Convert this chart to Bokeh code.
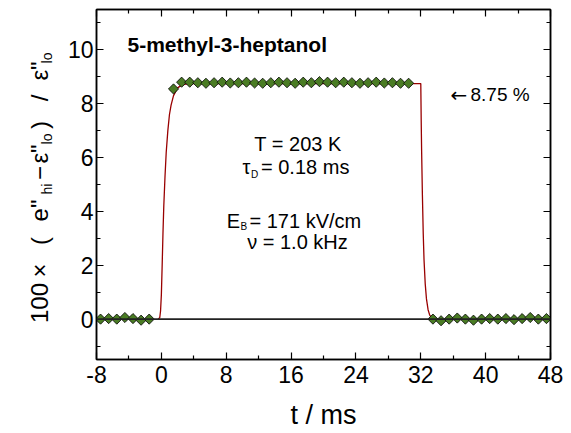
from math import pi
from bokeh.plotting import figure
from bokeh.layouts import row
from bokeh.models import Range1d, FixedTicker, LinearAxis, Label, Span, CustomJSTickFormatter
from bokeh.embed import file_html
from bokeh.resources import INLINE

# ---- data ----
t_before = [-7.5, -6.5, -5.5, -4.5, -3.5, -2.5, -1.5]
y_before = [0.0, 0.02, 0.0, 0.06, 0.02, -0.04, 0.0]

t_pulse = [1.5, 2.5, 3.5, 4.5, 5.5, 6.5, 7.5, 8.5, 9.5, 10.5,
           11.5, 12.5, 13.5, 14.5, 15.5, 16.5, 17.5, 18.5, 19.5, 20.5,
           21.5, 22.5, 23.5, 24.5, 25.5, 26.5, 27.5, 28.5, 29.5, 30.5]
y_pulse = [8.55, 8.80, 8.80, 8.78, 8.76, 8.78, 8.80, 8.77, 8.78, 8.80,
           8.77, 8.76, 8.78, 8.80, 8.78, 8.76, 8.80, 8.78, 8.82, 8.80,
           8.78, 8.80, 8.78, 8.76, 8.78, 8.80, 8.77, 8.78, 8.76, 8.76]

t_after = [33.5, 34.5, 35.5, 36.5, 37.5, 38.5, 39.5, 40.5, 41.5, 42.5,
           43.5, 44.5, 45.5, 46.5, 47.5]
y_after = [0.0, -0.06, 0.0, 0.04, 0.0, -0.04, 0.0, 0.02, 0.0, 0.02,
           -0.02, 0.02, 0.06, 0.0, 0.02]

# fitted curve
t_fit = [-0.4, -0.2, -0.1, 0.0, 0.1, 0.2, 0.3, 0.45, 0.6, 0.8, 1.0, 1.2, 1.5,
         2.0, 2.5, 3.0, 4.0, 32.0, 32.05, 32.1, 32.2, 32.3, 32.4, 32.55,
         32.7, 32.9, 33.1, 33.4, 33.7]
y_fit = [0.0, 0.05, 0.3, 0.9, 2.0, 3.2, 4.2, 5.3, 6.2, 7.0, 7.6, 7.95, 8.3,
         8.59, 8.69, 8.73, 8.75, 8.75, 7.4, 6.3, 4.6, 3.2, 2.2, 1.3,
         0.75, 0.35, 0.15, 0.04, 0.0]

x_major = [-8, 0, 8, 16, 24, 32, 40, 48]
x_minor = [-4, 4, 12, 20, 28, 36, 44]
y_major = [0, 2, 4, 6, 8, 10]
y_minor = [-1, 1, 3, 5, 7, 9, 11]

FONT = "Liberation Sans"
GREEN = "#4a7c24"
RED = "#990000"

H = 432          # height of both figures
LEFT_W = 56      # width of the strip holding the y title
MAIN_W = 512     # width of the main figure
B_TOP = 9        # top border (frame top at y=9)
B_BOT = 73       # bottom border (frame bottom at y=359)
FRAME_BOTTOM = H - B_BOT

p = figure(width=MAIN_W, height=H,
           x_range=Range1d(-8, 48), y_range=Range1d(-1.5, 11.5),
           output_backend="svg", toolbar_location=None,
           min_border_left=96 - LEFT_W, min_border_right=18,
           min_border_top=B_TOP, min_border_bottom=B_BOT)
p.xgrid.visible = False
p.ygrid.visible = False
p.background_fill_color = "white"
p.border_fill_color = "white"
p.outline_line_color = "black"
p.outline_line_width = 1.5


def style_axis(ax, ticks, minor, show_labels):
    ax.ticker = FixedTicker(ticks=ticks, minor_ticks=minor)
    ax.axis_line_color = "black"
    ax.axis_line_width = 1.5
    ax.major_tick_in = 7
    ax.major_tick_out = 0
    ax.minor_tick_in = 4
    ax.minor_tick_out = 0
    ax.major_tick_line_color = "black"
    ax.minor_tick_line_color = "black"
    ax.major_tick_line_width = 1.2
    ax.minor_tick_line_width = 1.2
    ax.major_label_text_font = FONT
    ax.major_label_text_color = "black"
    if show_labels:
        ax.major_label_text_font_size = "23px"
    else:
        ax.formatter = CustomJSTickFormatter(code="return ''")
        ax.major_label_text_font_size = "1px"
        ax.major_label_standoff = 0


style_axis(p.xaxis[0], x_major, x_minor, True)
style_axis(p.yaxis[0], y_major, y_minor, True)
p.xaxis[0].major_label_standoff = 6
p.yaxis[0].major_label_standoff = 3
p.xaxis[0].major_label_overrides = {-8: "-8"}
p.xaxis[0].axis_label = "t / ms"
p.xaxis[0].axis_label_text_font = FONT
p.xaxis[0].axis_label_text_font_size = "27px"
p.xaxis[0].axis_label_text_font_style = "normal"
p.xaxis[0].axis_label_text_color = "black"
p.xaxis[0].axis_label_standoff = 14

top_ax = LinearAxis()
right_ax = LinearAxis()
style_axis(top_ax, x_major, x_minor, False)
style_axis(right_ax, y_major, y_minor, False)
p.add_layout(top_ax, "above")
p.add_layout(right_ax, "right")

# zero line
p.add_layout(Span(location=0, dimension="width", line_color="#222222", line_width=1.6))

# fit curve
p.line(t_fit, y_fit, line_color=RED, line_width=1.3)

# data points
for tx, ty in ((t_before, y_before), (t_pulse, y_pulse), (t_after, y_after)):
    p.scatter(tx, ty, marker="square", angle=pi / 4, size=7.2,
              fill_color=GREEN, line_color="black", line_width=0.8)


# ---- text helper (screen units from the frame's bottom-left) ----
def lab(fig, text, x, y, size, align="left", bold=False, font=FONT, angle=0):
    fig.add_layout(Label(x=x, y=y, x_units="screen", y_units="screen", text=text,
                         text_font=font, text_font_size=size, text_color="black",
                         text_align=align, text_baseline="alphabetic", angle=angle,
                         text_font_style="bold" if bold else "normal"))


lab(p, "5-methyl-3-heptanol", 31, 315, "21px", bold=True)
lab(p, "\u2190", 354, 265, "20px", font="DejaVu Sans")
lab(p, "8.75 %", 374, 265, "19px")

lab(p, "T = 203 K", 201.5, 216, "20px", align="center")
lab(p, "\u03c4", 154, 193, "20px", align="right")
lab(p, "D", 154.5, 185, "10px")
lab(p, "= 0.18 ms", 164.5, 193, "20px")
lab(p, "E", 143.5, 139, "20px", align="right")
lab(p, "B", 144, 133, "10px")
lab(p, "= 171 kV/cm", 153, 139, "20px")
lab(p, "\u03bd = 1.0 kHz", 201, 118, "20px", align="center")

# ---- y axis title in a narrow strip on the left, built from pieces ----
pl = figure(width=LEFT_W, height=H, x_range=Range1d(0, 1), y_range=Range1d(0, 1),
            output_backend="svg", toolbar_location=None,
            x_axis_type=None, y_axis_type=None,
            min_border_left=0, min_border_right=0,
            min_border_top=B_TOP, min_border_bottom=B_BOT)
pl.outline_line_color = None
pl.background_fill_color = "white"
pl.border_fill_color = "white"

main_txt = ["100", "\u00d7", "(", "e\"", "\u2212", "\u03b5\"", ")", "/", "\u03b5\""]
main_pos = [302.5, 270, 240.5, 210, 172.5, 153.5, 124.5, 97.5, 70.5]
sub_txt = ["hi", "lo", "lo"]
sub_pos = [188.5, 138.5, 57.5]
for t, v in zip(main_txt, main_pos):
    lab(pl, t, 39, FRAME_BOTTOM - v, "24px", align="center", angle=pi / 2)
for t, v in zip(sub_txt, sub_pos):
    lab(pl, t, 46.5, FRAME_BOTTOM - v, "14px", align="center", angle=pi / 2)

layout = row(pl, p)
open("out.html", "w").write(file_html(layout, INLINE))
